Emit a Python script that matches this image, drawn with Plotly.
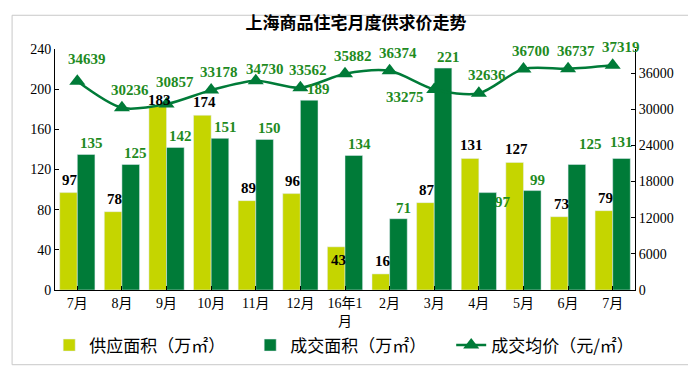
import plotly.graph_objects as go

months = ["7月", "8月", "9月", "10月", "11月", "12月", "16年1<br>月", "2月", "3月", "4月", "5月", "6月", "7月"]
supply = [97, 78, 183, 174, 89, 96, 43, 16, 87, 131, 127, 73, 79]
deal = [135, 125, 142, 151, 150, 189, 134, 71, 221, 97, 99, 125, 131]
price = [34639, 30236, 30857, 33178, 34730, 33562, 35882, 36374, 33275, 32636, 36700, 36737, 37319]

left_ticks = [0, 40, 80, 120, 160, 200, 240]
right_ticks = [0, 6000, 12000, 18000, 24000, 30000, 36000]

x = list(range(len(months)))

C_SUP = "#C5D500"
C_DEAL = "#007B38"
C_LBL = "#1F8B1F"
NUMFONT = "Liberation Serif, Noto Sans CJK SC"
CJK = "Noto Sans CJK SC"

# label offsets in pixels (style only): default plus a few exceptions as placed in the original
sup_shift = {i: (-7, 13) for i in x}
sup_shift[6] = (-7, -13)
sup_shift[2] = (-7, 6)
deal_shift = {i: (14, 11) for i in x}
deal_shift[9] = (24, -9)
deal_shift[11] = (22, 20)
deal_shift[5] = (18, 11)
deal_shift[12] = (9, 16)
price_shift = {i: (8, 18) for i in x}
price_shift[8] = (-29, -7)
price_shift[0] = (10, 22)
price_shift[2] = (8, 22)
price_shift[4] = (9, 12)

fig = go.Figure()
fig.add_trace(go.Bar(x=x, y=supply, name="供应面积（万㎡）", marker_color=C_SUP))
fig.add_trace(go.Bar(x=x, y=deal, name="成交面积（万㎡）", marker_color=C_DEAL))
fig.add_trace(go.Scatter(
    x=x, y=price, name="成交均价（元/㎡）", yaxis="y2",
    mode="lines+markers", line=dict(color=C_DEAL, width=2.5, shape="spline", smoothing=0.8),
    marker=dict(symbol="triangle-up", size=14, color=C_DEAL),
    cliponaxis=False,
))

annotations = []
lblfont_b = dict(family=NUMFONT, size=15, color="black", weight="bold")
lblfont_g = dict(family=NUMFONT, size=15, color=C_LBL, weight="bold")
for i in x:
    dx, dy = sup_shift[i]
    annotations.append(dict(x=i, y=supply[i], xref="x", yref="y", text=str(supply[i]), showarrow=False,
                            xanchor="center", yanchor="middle", xshift=dx, yshift=dy, font=lblfont_b))
    dx, dy = deal_shift[i]
    annotations.append(dict(x=i, y=deal[i], xref="x", yref="y", text=str(deal[i]), showarrow=False,
                            xanchor="center", yanchor="middle", xshift=dx, yshift=dy, font=lblfont_g))
    dx, dy = price_shift[i]
    annotations.append(dict(x=i, y=price[i], xref="x", yref="y2", text=str(price[i]), showarrow=False,
                            xanchor="center", yanchor="middle", xshift=dx, yshift=dy, font=lblfont_g))

fig.update_layout(
    width=696, height=367,
    margin=dict(l=47, r=69, t=41, b=78),
    paper_bgcolor="white", plot_bgcolor="white",
    barmode="group", bargap=0.21, bargroupgap=0,
    title=dict(text="<b>上海商品住宅月度供求价走势</b>", x=0.5, xanchor="center", y=0.96, yanchor="middle",
               font=dict(family=CJK, size=17, color="black")),
    xaxis=dict(tickmode="array", tickvals=x, ticktext=months, range=[-0.5, len(x) - 0.5],
               showline=True, linecolor="black", linewidth=1, ticks="inside", ticklen=4,
               tickson="boundaries", tickcolor="black", showgrid=False, automargin=False,
               tickfont=dict(family=NUMFONT, size=14, color="black")),
    yaxis=dict(range=[0, 240], tickvals=left_ticks, showline=True, linecolor="black", linewidth=1,
               ticks="inside", ticklen=4, tickcolor="black", showgrid=False, zeroline=False,
               automargin=False,
               tickfont=dict(family=NUMFONT, size=14, color="black")),
    yaxis2=dict(range=[0, 40000], tickvals=right_ticks, tickformat="d", overlaying="y", side="right",
                showline=True, linecolor="black", linewidth=1, ticks="inside", ticklen=4,
                tickcolor="black", showgrid=False, zeroline=False, automargin=False,
                tickfont=dict(family=NUMFONT, size=14, color="black")),
    showlegend=True,
    legend=dict(orientation="h", x=-0.01, xanchor="left", y=-0.305, yanchor="bottom",
                entrywidth=156, entrywidthmode="pixels",
                font=dict(family=CJK, size=17, color="black"), traceorder="normal"),
    annotations=annotations,
    shapes=[dict(type="rect", xref="paper", yref="paper", x0=-0.074, x1=1.108, y0=-0.31, y1=1.14,
                 line=dict(color="#C8C8C8", width=1), layer="below")],
)

fig.write_html("out.html")
